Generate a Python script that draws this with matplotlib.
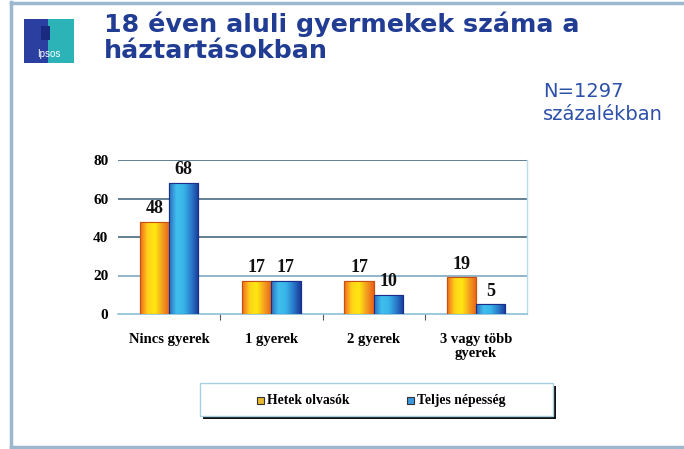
import matplotlib
matplotlib.use("Agg")
import matplotlib.pyplot as plt
import numpy as np
from matplotlib.patches import Rectangle
from matplotlib.lines import Line2D
from matplotlib.colors import LinearSegmentedColormap

categories = ["Nincs gyerek", "1 gyerek", "2 gyerek", "3 vagy több\ngyerek"]
series_names = ["Hetek olvasók", "Teljes népesség"]
hetek = [48, 17, 17, 19]
teljes = [68, 17, 10, 5]
yticks = [0, 20, 40, 60, 80]

W, H = 684, 449
fig = plt.figure(figsize=(W / 100, H / 100), dpi=100)
fig.patch.set_facecolor("white")

def fx(x):
    return x / W

def fy(y):
    return 1 - y / H

# outer frame
border = "#9DB8CC"
fig.add_artist(Line2D([fx(11), fx(11)], [fy(2), fy(447)], color=border, lw=2.5))
fig.add_artist(Line2D([fx(11), fx(684)], [fy(3), fy(3)], color=border, lw=2.5))
fig.add_artist(Line2D([fx(11), fx(684)], [fy(447), fy(447)], color=border, lw=2.5))

# logo
fig.add_artist(Rectangle((fx(24), fy(63)), fx(26), fy(19) - fy(63), color="#2B3FA0", lw=0))
fig.add_artist(Rectangle((fx(48), fy(63)), fx(26), fy(19) - fy(63), color="#2BB3B8", lw=0))
fig.add_artist(Rectangle((fx(41), fy(40)), fx(9), fy(26) - fy(40), color="#1A2A80", lw=0))
fig.text(fx(49), fy(54), "Ipsos", color="white", fontsize=7, ha="center", va="center",
         family="Liberation Sans")

# title
title_col = "#213C93"
fig.text(fx(104), fy(32), "18 éven aluli gyermekek száma a", color=title_col,
         fontsize=18.3, fontweight="bold", family="DejaVu Sans", va="baseline", ha="left")
fig.text(fx(104), fy(58), "háztartásokban", color=title_col,
         fontsize=18.3, fontweight="bold", family="DejaVu Sans", va="baseline", ha="left")
note_col = "#2D50A8"
fig.text(fx(543), fy(97), "N=1297", color=note_col, fontsize=14,
         family="DejaVu Sans", va="baseline", ha="left")
fig.text(fx(543), fy(120), "százalékban", color=note_col, fontsize=14,
         family="DejaVu Sans", va="baseline", ha="left")

# axes
ax = fig.add_axes([fx(118), fy(314), fx(527) - fx(118), fy(160) - fy(314)])
ax.set_facecolor("none")
x = np.arange(len(categories))
bw = 0.285
b1 = ax.bar(x - bw / 2, hetek, bw, color="#F8A020", edgecolor="#C85010", lw=0.8, zorder=3)
b2 = ax.bar(x + bw / 2, teljes, bw, color="#3AA8E0", edgecolor="#1A2F8A", lw=0.8, zorder=3)

orange_cm = LinearSegmentedColormap.from_list("o", ["#EE6A1E", "#FFD21A", "#FFE810", "#F4A020", "#E86018"])
blue_cm = LinearSegmentedColormap.from_list("b", ["#2A6CC0", "#40C0EE", "#38B4E8", "#2A7ACC", "#1A3A98"])
grad = np.linspace(0, 1, 64).reshape(1, -1)
for bars, cm in ((b1, orange_cm), (b2, blue_cm)):
    for p in bars:
        x0, w, h = p.get_x(), p.get_width(), p.get_height()
        im = ax.imshow(grad, cmap=cm, extent=[x0, x0 + w, 0, h], aspect="auto", zorder=3.5,
                       interpolation="bicubic")
        im.set_clip_path(p)
        ax.add_patch(Rectangle((x0, 0), w, h, fill=False, edgecolor=p.get_edgecolor(),
                               lw=0.8, zorder=4))

serif = "Liberation Serif"
for bars, vals in ((b1, hetek), (b2, teljes)):
    for p, v in zip(bars, vals):
        ax.text(p.get_x() + p.get_width() / 2, v + 2.5, f"{v}", ha="center", va="bottom",
                fontsize=13, fontweight="bold", family=serif, color="#111111", zorder=5)

ax.set_xlim(-0.5, len(categories) - 0.5)
ax.set_ylim(0, 80)
ax.set_yticks(yticks)
ax.set_yticklabels([str(t) for t in yticks], fontsize=11, fontweight="bold", family=serif)
ax.tick_params(axis="y", length=0, pad=7)
ax.set_xticks(x)
ax.set_xticklabels(categories, fontsize=10.5, fontweight="bold", family=serif, linespacing=1.1)
ax.tick_params(axis="x", length=0, pad=14)
ax.set_xticks(np.arange(0.5, len(categories) - 0.5, 1), minor=True)
ax.tick_params(axis="x", which="minor", length=4, color="#555555", width=0.8)
for t in yticks[1:]:
    ax.axhline(t, color="#4A6A80" if t > 20 else "#7FA8C0", lw=1.2, zorder=1)
for s in ("left", "top"):
    ax.spines[s].set_visible(False)
ax.spines["bottom"].set_color("#8CC0D8")
ax.spines["bottom"].set_linewidth(1.2)
ax.spines["right"].set_color("#B8DCEA")
ax.spines["right"].set_linewidth(1.0)

# legend box with shadow
lx0, ly0, lx1, ly1 = 200, 383, 553, 416
fig.add_artist(Rectangle((fx(lx0 + 3), fy(ly1 + 3)), fx(lx1 - lx0), fy(ly0) - fy(ly1),
                         facecolor="#111111", lw=0))
fig.add_artist(Rectangle((fx(lx0), fy(ly1)), fx(lx1 - lx0), fy(ly0) - fy(ly1),
                         facecolor="white", edgecolor="#A8D0E0", lw=1.0))
fig.add_artist(Rectangle((fx(257), fy(404)), fx(7), fy(397) - fy(404),
                         facecolor="#E8B830", edgecolor="#333333", lw=0.8))
fig.text(fx(267), fy(404), series_names[0], fontsize=9.8, fontweight="bold", family=serif,
         va="baseline", ha="left")
fig.add_artist(Rectangle((fx(407), fy(404)), fx(7), fy(397) - fy(404),
                         facecolor="#3A9AE0", edgecolor="#333333", lw=0.8))
fig.text(fx(417), fy(404), series_names[1], fontsize=9.8, fontweight="bold", family=serif,
         va="baseline", ha="left")

fig.savefig("out.png", dpi=100, facecolor="white")
